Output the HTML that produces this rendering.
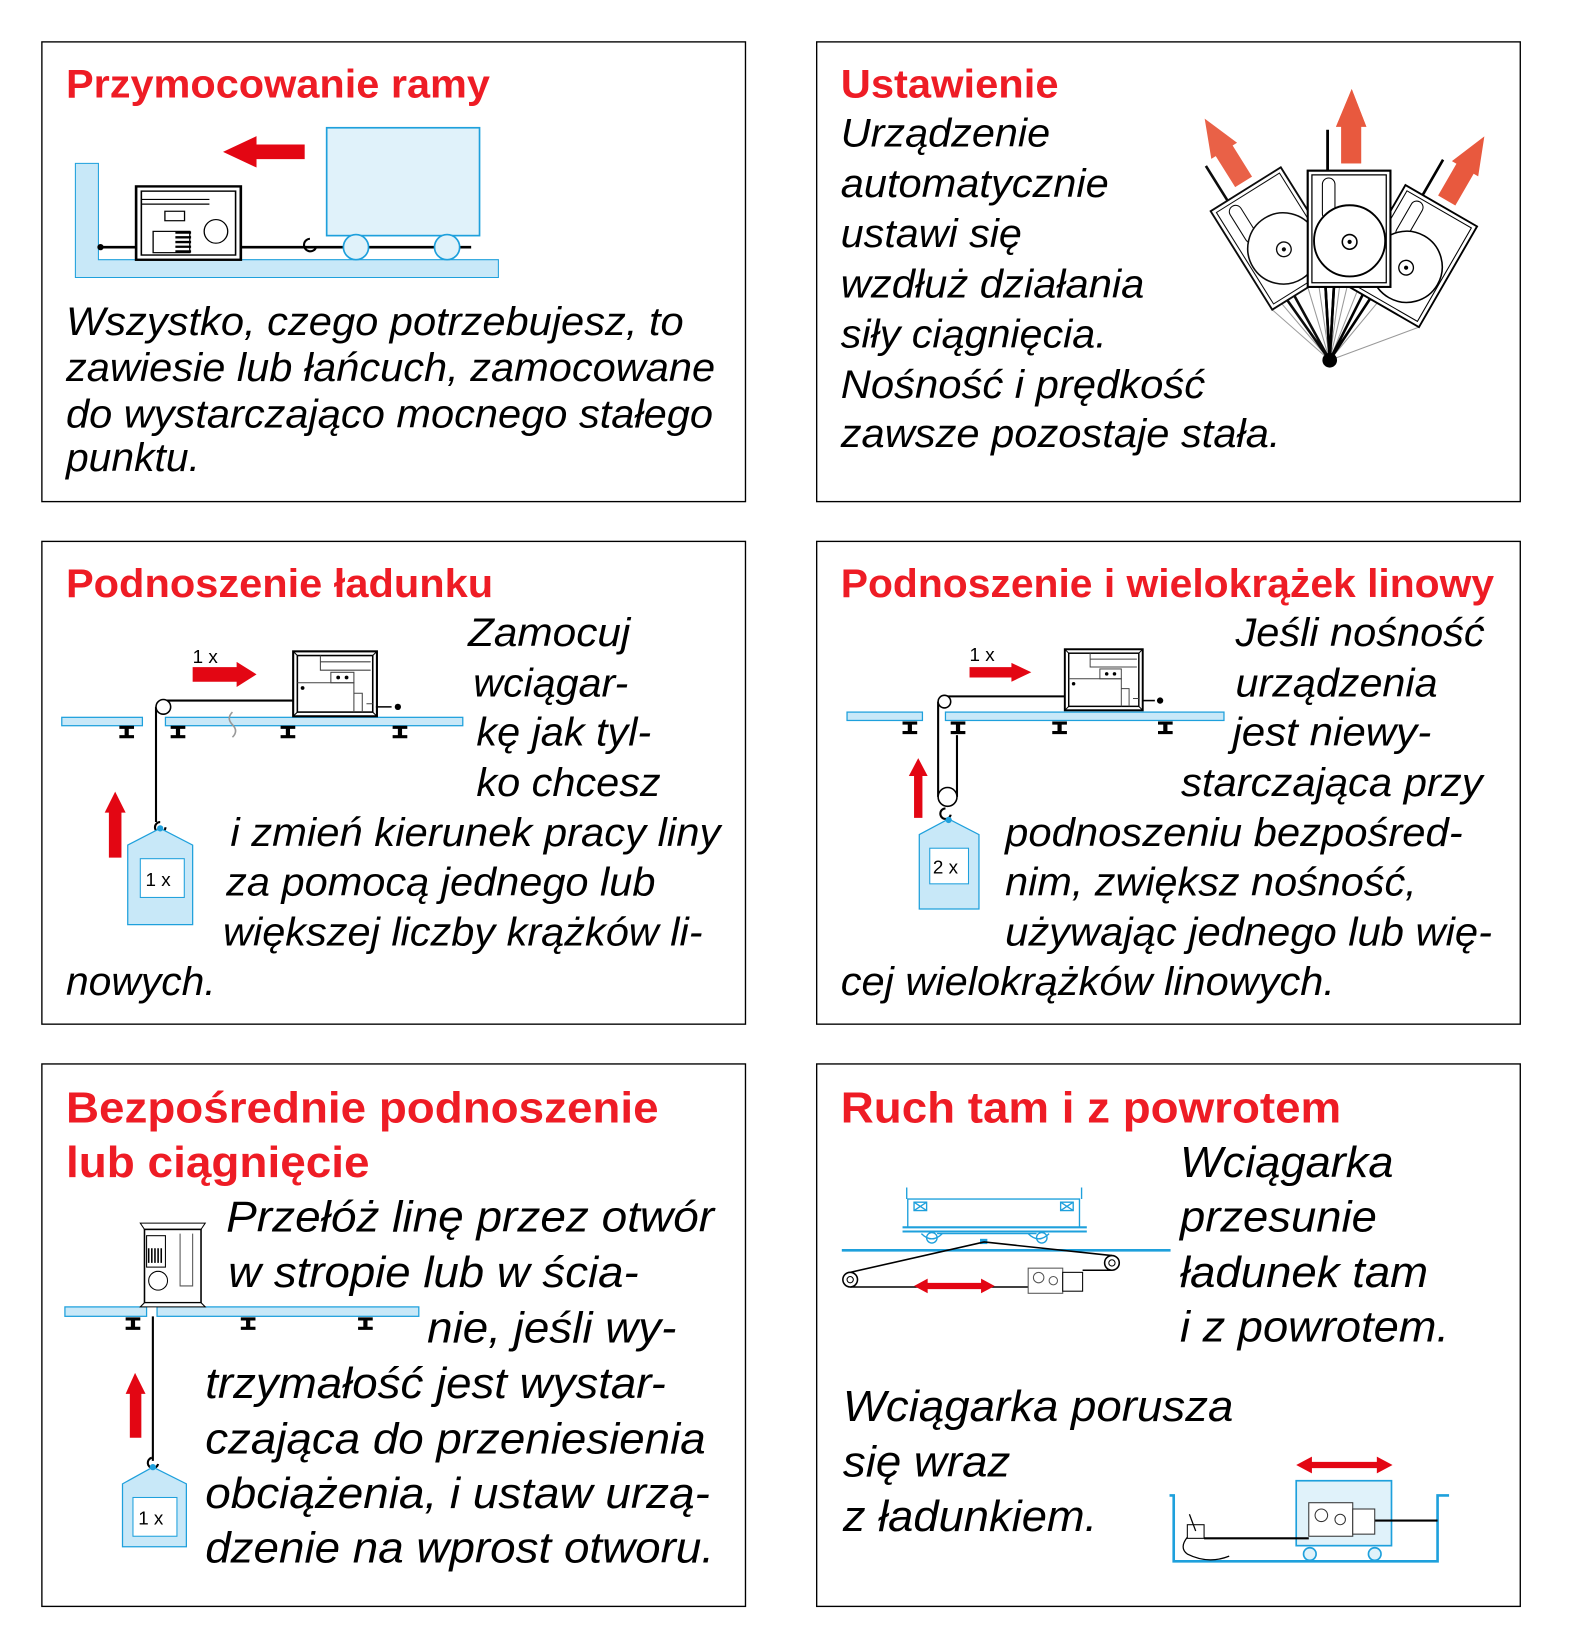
<!DOCTYPE html>
<html><head><meta charset="utf-8"><style>
html,body{margin:0;padding:0;background:#fff}
svg{display:block}
.t{font-family:"Liberation Sans",Arial,sans-serif;font-weight:bold;fill:#ee1c25;font-size:38px}
.b{font-family:"Liberation Sans",Arial,sans-serif;font-style:italic;fill:#000;font-size:38px}
.b2{font-size:42px}
.s{font-family:"Liberation Sans",Arial,sans-serif;font-size:18px;fill:#000}
.box{fill:#fff;stroke:#000;stroke-width:1.3}
.lb{fill:#c8e8f8;stroke:#1ea0dc;stroke-width:1.2}
.lb2{fill:#e0f2fa;stroke:#1ea0dc;stroke-width:1.6}
.r{fill:#e30613}
.k{stroke:#000;fill:none;stroke-width:2}
</style></head><body>
<svg width="1572" height="1642" viewBox="0 0 1501.4 1568" preserveAspectRatio="none" xmlns="http://www.w3.org/2000/svg">
<defs>
<g id="winch">
<rect x="0" y="0" width="80" height="62" fill="#fff" stroke="#000" stroke-width="2"/>
<rect x="4" y="4" width="72" height="54" fill="none" stroke="#000" stroke-width="1.5"/>
<path d="M0 0L4 4M80 0L76 4M0 62L4 58M80 62L76 58" stroke="#000" stroke-width="1"/>
<path d="M26 4V18H74M26 10H74" stroke="#444" fill="none" stroke-width="1"/>
<rect x="36" y="20" width="22" height="10" fill="#fff" stroke="#444" stroke-width="1"/>
<circle cx="43" cy="25" r="1.8"/><circle cx="51" cy="25" r="1.8"/>
<circle cx="9" cy="35" r="1.8"/>
<path d="M4 30H58V58M58 40H66V58M70 50H76" stroke="#444" fill="none" stroke-width="1"/>
</g>
<g id="ibeam"><path d="M-7 0H7V3H2V9H7V12H-7V9H-2V3H-7Z" fill="#000"/></g>
</defs>

<!-- Boxes -->
<rect class="box" x="40" y="40" width="672" height="439"/>
<rect class="box" x="780" y="40" width="672" height="439"/>
<rect class="box" x="40" y="517" width="672" height="461"/>
<rect class="box" x="780" y="517" width="672" height="461"/>
<rect class="box" x="40" y="1016" width="672" height="518"/>
<rect class="box" x="780" y="1016" width="672" height="518"/>

<!-- Box1 -->
<text class="t" x="63" y="93" textLength="405" lengthAdjust="spacingAndGlyphs">Przymocowanie ramy</text>
<path d="M72 156H94V248H476V265H72Z" fill="#c8e8f8" stroke="#1ea0dc" stroke-width="1"/>
<line x1="94" y1="236" x2="450" y2="236" stroke="#000" stroke-width="2.5"/>
<circle cx="96" cy="236" r="3"/>
<path d="M296 228a6 6 0 1 0 6 8" class="k"/>
<rect x="312" y="122" width="146" height="103" class="lb2"/>
<circle cx="340" cy="236" r="12" class="lb2"/>
<circle cx="427" cy="236" r="12" class="lb2"/>
<g transform="translate(130,178) scale(1.25,1.13)">
<rect x="0" y="0" width="80" height="62" fill="#fff" stroke="#000" stroke-width="2"/>
<rect x="4" y="4" width="72" height="54" fill="none" stroke="#000" stroke-width="1.2"/>
<path d="M4 11H56M4 15H56" stroke="#000" stroke-width="1"/>
<rect x="22" y="21" width="15" height="8" fill="#fff" stroke="#000"/>
<rect x="13" y="38" width="28" height="18" fill="#fff" stroke="#000"/>
<path d="M30 39H42M30 43H42M30 47H42M30 51H42M30 55H42" stroke="#000" stroke-width="2"/>
<ellipse cx="61" cy="38" rx="9" ry="10" fill="#fff" stroke="#000"/>
</g>
<path d="M291 138V152H245V160L213 145L245 130V138Z" class="r"/>
<text class="b" x="63" y="320" textLength="590" lengthAdjust="spacingAndGlyphs">Wszystko, czego potrzebujesz, to</text>
<text class="b" x="63" y="364" textLength="620" lengthAdjust="spacingAndGlyphs">zawiesie lub łańcuch, zamocowane</text>
<text class="b" x="63" y="408" textLength="618" lengthAdjust="spacingAndGlyphs">do wystarczająco mocnego stałego</text>
<text class="b" x="63" y="450" textLength="128" lengthAdjust="spacingAndGlyphs">punktu.</text>

<!-- Box2 -->
<text class="t" x="803" y="93" textLength="208" lengthAdjust="spacingAndGlyphs">Ustawienie</text>
<text class="b" x="803" y="140" textLength="200" lengthAdjust="spacingAndGlyphs">Urządzenie</text>
<text class="b" x="803" y="188" textLength="256" lengthAdjust="spacingAndGlyphs">automatycznie</text>
<text class="b" x="803" y="236" textLength="173" lengthAdjust="spacingAndGlyphs">ustawi się</text>
<text class="b" x="803" y="284" textLength="290" lengthAdjust="spacingAndGlyphs">wzdłuż działania</text>
<text class="b" x="803" y="332" textLength="254" lengthAdjust="spacingAndGlyphs">siły ciągnięcia.</text>
<text class="b" x="803" y="380" textLength="348" lengthAdjust="spacingAndGlyphs">Nośność i prędkość</text>
<text class="b" x="803" y="427" textLength="420" lengthAdjust="spacingAndGlyphs">zawsze pozostaje stała.</text>
<g id="sw">
<path d="M1270 344L1249 274M1270 344L1328 274M1270 344L1249 200" stroke="#999" stroke-width="1" fill="none"/>
<path d="M1266 274L1270 344L1274 274" stroke="#000" stroke-width="2.5" fill="none"/>
<line x1="1268" y1="124" x2="1268" y2="163" stroke="#000" stroke-width="2.5"/>
<rect x="1249" y="163" width="79" height="111" fill="#fff" stroke="#000" stroke-width="1.8"/>
<rect x="1253" y="167" width="71" height="103" fill="none" stroke="#000" stroke-width="1"/>
<rect x="1263" y="170" width="12" height="40" rx="6" fill="#fff" stroke="#000" stroke-width="1"/>
<circle cx="1289" cy="230" r="34" fill="#fff" stroke="#000" stroke-width="1.5"/>
<circle cx="1289" cy="231" r="7" fill="#fff" stroke="#000" stroke-width="1.3"/>
<circle cx="1289" cy="231" r="2" fill="#000"/>
<path d="M1281 156V121H1276L1291 85L1305 121H1300V156Z" fill="#e8593e"/>
</g>
<g transform="rotate(-32 1270 344)" opacity="0.95"><use href="#sw"/></g>
<g transform="rotate(30 1270 344)"><use href="#sw"/></g>
<g>
<line x1="1268" y1="124" x2="1268" y2="163" stroke="#000" stroke-width="2.5"/>
<rect x="1249" y="163" width="79" height="111" fill="#fff" stroke="#000" stroke-width="2"/>
<rect x="1253" y="167" width="71" height="103" fill="none" stroke="#000" stroke-width="1.2"/>
<rect x="1263" y="170" width="12" height="40" rx="6" fill="#fff" stroke="#000" stroke-width="1"/>
<circle cx="1289" cy="230" r="34" fill="#fff" stroke="#000" stroke-width="1.8"/>
<circle cx="1289" cy="231" r="7" fill="#fff" stroke="#000" stroke-width="1.5"/>
<circle cx="1289" cy="231" r="2" fill="#000"/>
<path d="M1266 274L1270 344L1274 274" stroke="#000" stroke-width="2.5" fill="none"/>
<path d="M1281 156V121H1276L1291 85L1305 121H1300V156Z" fill="#e8593e"/>
<circle cx="1270" cy="344" r="7" fill="#000"/>
</g>

<!-- Box3 -->
<text class="t" x="63" y="570" textLength="408" lengthAdjust="spacingAndGlyphs">Podnoszenie ładunku</text>
<rect x="59" y="685" width="77" height="8" class="lb"/>
<rect x="158" y="685" width="284" height="8" class="lb"/>
<use href="#ibeam" x="121" y="693"/><use href="#ibeam" x="170" y="693"/><use href="#ibeam" x="275" y="693"/><use href="#ibeam" x="382" y="693"/>
<path d="M222 680q-6 6 0 12q6 6 0 12" stroke="#999" fill="none" stroke-width="1.5"/>
<line x1="156" y1="669" x2="280" y2="669" stroke="#000" stroke-width="2"/>
<line x1="149" y1="675" x2="149" y2="785" stroke="#000" stroke-width="2"/>
<circle cx="156" cy="675" r="7" fill="#fff" stroke="#000" stroke-width="1.5"/>
<path d="M153 785a5 5 0 1 0 5 5" class="k"/>
<use href="#winch" x="280" y="622"/>
<path d="M359 675H374" stroke="#000" stroke-width="1.5"/><circle cx="380" cy="675" r="3"/>
<text class="s" x="184" y="633">1 x</text>
<path d="M184 637H226V632L245 644L226 656V651H184Z" class="r"/>
<path d="M104 819V776H100L110 756L120 776H116V819Z" class="r"/>
<path d="M122 807L153 791L184 807V883H122Z" class="lb"/>
<rect x="134" y="820" width="42" height="37" fill="#fff" stroke="#1ea0dc"/>
<text class="s" x="139" y="846">1 x</text>
<circle cx="153" cy="791" r="3" fill="#1ea0dc"/>
<text class="b" x="447" y="617" textLength="155" lengthAdjust="spacingAndGlyphs">Zamocuj</text>
<text class="b" x="452" y="665" textLength="148" lengthAdjust="spacingAndGlyphs">wciągar-</text>
<text class="b" x="455" y="712" textLength="167" lengthAdjust="spacingAndGlyphs">kę jak tyl-</text>
<text class="b" x="455" y="760" textLength="176" lengthAdjust="spacingAndGlyphs">ko chcesz</text>
<text class="b" x="220" y="808" textLength="468" lengthAdjust="spacingAndGlyphs">i zmień kierunek pracy liny</text>
<text class="b" x="216" y="855" textLength="410" lengthAdjust="spacingAndGlyphs">za pomocą jednego lub</text>
<text class="b" x="213" y="903" textLength="458" lengthAdjust="spacingAndGlyphs">większej liczby krążków li-</text>
<text class="b" x="63" y="950" textLength="143" lengthAdjust="spacingAndGlyphs">nowych.</text>

<!-- Box4 -->
<text class="t" x="803" y="570" textLength="624" lengthAdjust="spacingAndGlyphs">Podnoszenie i wielokrążek linowy</text>
<rect x="809" y="680" width="72" height="8" class="lb"/>
<rect x="903" y="680" width="266" height="8" class="lb"/>
<use href="#ibeam" x="869" y="689"/><use href="#ibeam" x="915" y="689"/><use href="#ibeam" x="1012" y="689"/><use href="#ibeam" x="1113" y="689"/>
<line x1="902" y1="665" x2="1017" y2="665" stroke="#000" stroke-width="2"/>
<line x1="896" y1="670" x2="896" y2="761" stroke="#000" stroke-width="2"/>
<line x1="914" y1="702" x2="914" y2="761" stroke="#000" stroke-width="2"/>
<circle cx="902" cy="670" r="6" fill="#fff" stroke="#000" stroke-width="1.5"/>
<circle cx="905" cy="761" r="9" fill="#fff" stroke="#000" stroke-width="1.5"/>
<path d="M903 772a5 5 0 1 0 5 6" class="k"/>
<use href="#winch" x="1017" y="620" transform="translate(1017 620) scale(0.93 0.94) translate(-1017 -620)"/>
<path d="M1091 669H1103" stroke="#000" stroke-width="1.5"/><circle cx="1108" cy="669" r="3"/>
<text class="s" x="926" y="631">1 x</text>
<path d="M926 637H966V633L985 642L966 651V647H926Z" class="r"/>
<path d="M873 781V741H868L877 724L886 741H881V781Z" class="r"/>
<path d="M878 797L906 782L935 797V868H878Z" class="lb"/>
<rect x="888" y="810" width="37" height="34" fill="#fff" stroke="#1ea0dc"/>
<text class="s" x="891" y="834">2 x</text>
<circle cx="906" cy="783" r="3" fill="#1ea0dc"/>
<text class="b" x="1180" y="617" textLength="238" lengthAdjust="spacingAndGlyphs">Jeśli nośność</text>
<text class="b" x="1180" y="665" textLength="193" lengthAdjust="spacingAndGlyphs">urządzenia</text>
<text class="b" x="1177" y="712" textLength="190" lengthAdjust="spacingAndGlyphs">jest niewy-</text>
<text class="b" x="1128" y="760" textLength="288" lengthAdjust="spacingAndGlyphs">starczająca przy</text>
<text class="b" x="960" y="808" textLength="437" lengthAdjust="spacingAndGlyphs">podnoszeniu bezpośred-</text>
<text class="b" x="960" y="855" textLength="393" lengthAdjust="spacingAndGlyphs">nim, zwiększ nośność,</text>
<text class="b" x="960" y="903" textLength="465" lengthAdjust="spacingAndGlyphs">używając jednego lub wię-</text>
<text class="b" x="803" y="950" textLength="472" lengthAdjust="spacingAndGlyphs">cej wielokrążków linowych.</text>

<!-- Box5 -->
<text class="t b2" x="63" y="1072" textLength="566" lengthAdjust="spacingAndGlyphs">Bezpośrednie podnoszenie</text>
<text class="t b2" x="63" y="1124" textLength="290" lengthAdjust="spacingAndGlyphs">lub ciągnięcie</text>
<rect x="62" y="1248" width="78" height="9" class="lb"/>
<rect x="150" y="1248" width="250" height="9" class="lb"/>
<use href="#ibeam" x="127" y="1258"/><use href="#ibeam" x="237" y="1258"/><use href="#ibeam" x="349" y="1258"/>
<g transform="translate(134,1168)">
<path d="M0 0H62L58 6H4Z" fill="#fff" stroke="#000"/>
<rect x="4" y="6" width="54" height="70" fill="#fff" stroke="#000" stroke-width="1.5"/>
<path d="M0 80H62L58 76H4Z" fill="#fff" stroke="#000"/>
<rect x="6" y="12" width="18" height="30" fill="#fff" stroke="#000"/>
<path d="M8 24V38M11 24V38M14 24V38M17 24V38M20 24V38" stroke="#000" stroke-width="1.5"/>
<circle cx="17" cy="55" r="9" fill="#fff" stroke="#000"/>
<path d="M38 10V60H50V10" fill="none" stroke="#555"/>
</g>
<line x1="146" y1="1257" x2="146" y2="1395" stroke="#000" stroke-width="2"/>
<path d="M145 1392a5 5 0 1 0 6 6" class="k"/>
<path d="M124 1373V1331H120L129 1311L139 1331H135V1373Z" class="r"/>
<path d="M117 1417L146 1401L178 1417V1477H117Z" class="lb"/>
<rect x="127" y="1430" width="42" height="37" fill="#fff" stroke="#1ea0dc"/>
<text class="s" x="132" y="1456">1 x</text>
<circle cx="146" cy="1401" r="3" fill="#1ea0dc"/>
<text class="b b2" x="216" y="1176" textLength="466" lengthAdjust="spacingAndGlyphs">Przełóż linę przez otwór</text>
<text class="b b2" x="218" y="1229" textLength="392" lengthAdjust="spacingAndGlyphs">w stropie lub w ścia-</text>
<text class="b b2" x="408" y="1282" textLength="238" lengthAdjust="spacingAndGlyphs">nie, jeśli wy-</text>
<text class="b b2" x="196" y="1335" textLength="440" lengthAdjust="spacingAndGlyphs">trzymałość jest wystar-</text>
<text class="b b2" x="196" y="1388" textLength="478" lengthAdjust="spacingAndGlyphs">czająca do przeniesienia</text>
<text class="b b2" x="196" y="1440" textLength="482" lengthAdjust="spacingAndGlyphs">obciążenia, i ustaw urzą-</text>
<text class="b b2" x="196" y="1492" textLength="486" lengthAdjust="spacingAndGlyphs">dzenie na wprost otworu.</text>

<!-- Box6 -->
<text class="t b2" x="803" y="1072" textLength="478" lengthAdjust="spacingAndGlyphs">Ruch tam i z powrotem</text>
<text class="b b2" x="1127" y="1124" textLength="204" lengthAdjust="spacingAndGlyphs">Wciągarka</text>
<text class="b b2" x="1127" y="1176" textLength="188" lengthAdjust="spacingAndGlyphs">przesunie</text>
<text class="b b2" x="1127" y="1229" textLength="237" lengthAdjust="spacingAndGlyphs">ładunek tam</text>
<text class="b b2" x="1127" y="1281" textLength="257" lengthAdjust="spacingAndGlyphs">i z powrotem.</text>
<text class="b b2" x="805" y="1357" textLength="373" lengthAdjust="spacingAndGlyphs">Wciągarka porusza</text>
<text class="b b2" x="805" y="1410" textLength="160" lengthAdjust="spacingAndGlyphs">się wraz</text>
<text class="b b2" x="805" y="1462" textLength="243" lengthAdjust="spacingAndGlyphs">z ładunkiem.</text>
<!-- top diagram -->
<g stroke="#1ea0dc" fill="none" stroke-width="1.3">
<path d="M866 1134V1145M1033 1134V1145"/>
<rect x="867" y="1145" width="164" height="27"/>
<rect x="873" y="1148" width="12" height="8"/><path d="M873 1148L885 1156M885 1148L873 1156"/>
<rect x="1013" y="1148" width="12" height="8"/><path d="M1013 1148L1025 1156M1025 1148L1013 1156"/>
<path d="M862 1172H1038M862 1176H1038" stroke-width="2"/>
<path d="M880 1178q10 10 20 0M982 1178q10 10 20 0M895 1178H990"/>
<circle cx="890" cy="1182" r="5"/><circle cx="995" cy="1182" r="5"/>
</g>
<line x1="804" y1="1194" x2="1118" y2="1194" stroke="#1ea0dc" stroke-width="2.5"/>
<rect x="936" y="1183" width="7" height="5" fill="#1ea0dc"/>
<path d="M812 1215L940 1186L1062 1199M812 1229H982M1034 1213H1062" stroke="#000" stroke-width="1.5" fill="none"/>
<circle cx="812" cy="1222" r="7" fill="#fff" stroke="#000" stroke-width="1.5"/><circle cx="812" cy="1222" r="3" fill="none" stroke="#000"/>
<circle cx="1062" cy="1206" r="7" fill="#fff" stroke="#000" stroke-width="1.5"/><circle cx="1062" cy="1206" r="3" fill="none" stroke="#000"/>
<rect x="982" y="1211" width="33" height="24" fill="#fff" stroke="#555"/>
<circle cx="992" cy="1220" r="5" fill="none" stroke="#555"/><circle cx="1006" cy="1223" r="4" fill="none" stroke="#555"/>
<rect x="1015" y="1215" width="19" height="18" fill="#fff" stroke="#000"/>
<path d="M873 1228L886 1221V1225H937V1221L950 1228L937 1235V1231H886V1235Z" class="r"/>
<!-- bottom diagram -->
<path d="M1117 1428H1121V1491H1373V1428H1384" stroke="#1ea0dc" stroke-width="2.5" fill="none"/>
<rect x="1238" y="1414" width="91" height="62" class="lb2" stroke-width="1.2"/>
<circle cx="1251" cy="1484" r="6" class="lb2"/><circle cx="1313" cy="1484" r="6" class="lb2"/>
<path d="M1150 1469H1250M1302 1452H1373" stroke="#000" stroke-width="2"/>
<rect x="1250" y="1435" width="42" height="32" fill="#fff" stroke="#333"/>
<circle cx="1262" cy="1447" r="6" fill="none" stroke="#333"/><circle cx="1280" cy="1451" r="5" fill="none" stroke="#333"/>
<rect x="1292" y="1441" width="21" height="24" fill="#fff" stroke="#333"/>
<rect x="1134" y="1456" width="16" height="13" fill="#fff" stroke="#000"/>
<path d="M1136 1446L1142 1462M1134 1468q-8 10 0 16q20 10 40 2" stroke="#000" fill="none" stroke-width="1.2"/>
<path d="M1238 1399L1253 1391V1396H1315V1391L1330 1399L1315 1407V1402H1253V1407Z" class="r"/>
</svg>
</body></html>
